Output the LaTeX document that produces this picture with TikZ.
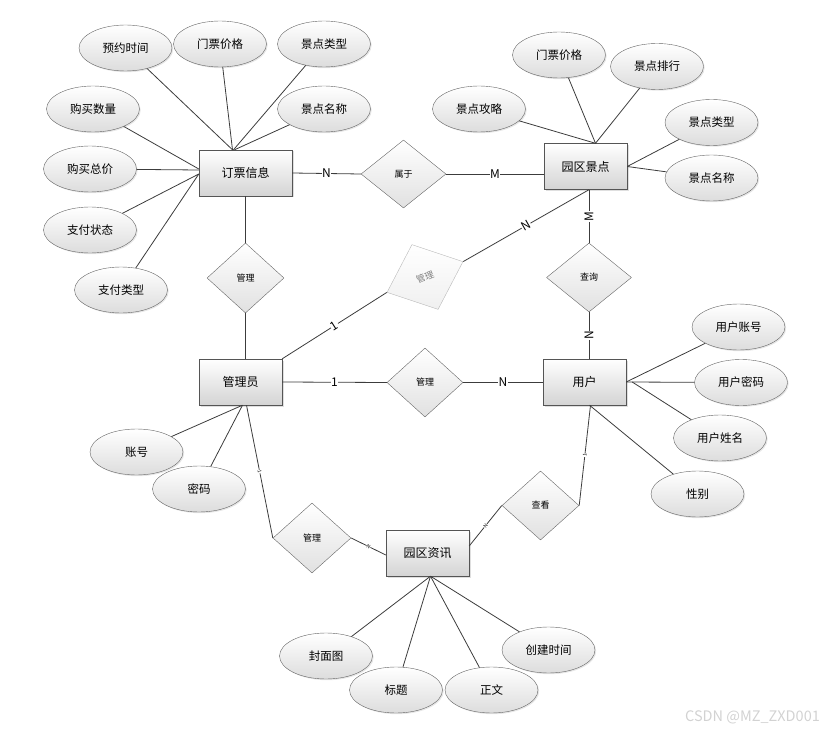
\documentclass[tikz,border=0pt]{standalone}
\usepackage{fontspec}
\setmainfont{Noto Sans CJK SC}
\usetikzlibrary{shapes.geometric,shadows}
\definecolor{EdgeGray}{RGB}{85,85,85}
\definecolor{ShadeGray}{RGB}{212,212,212}
\definecolor{LineGray}{RGB}{60,60,60}

\begin{document}
\begin{tikzpicture}[x=1pt, y=-1pt,
            entity/.style={draw=EdgeGray, top color=white, bottom color=ShadeGray, minimum width=83pt, minimum height=46pt, inner sep=0pt, font=\fontsize{12}{12}\selectfont, drop shadow={shadow xshift=1.5pt, shadow yshift=-1.5pt, opacity=0.25}},
            attr/.style={draw=EdgeGray!90, ellipse, top color=white, bottom color=ShadeGray!80, minimum width=93pt, minimum height=46pt, inner sep=0pt, font=\fontsize{11.5}{12}\selectfont, drop shadow={shadow xshift=1.2pt, shadow yshift=-1.2pt, opacity=0.2}},
            rel/.style={draw=EdgeGray!90, diamond, top color=white, bottom color=ShadeGray!70, minimum width=78pt, minimum height=70pt, inner sep=0pt, font=\fontsize{9}{10}\selectfont},
            link/.style={draw=LineGray, line width=0.8pt},
            card/.style={fill=white, inner sep=0.6pt, font=\fontsize{12}{12}\selectfont},
            tick/.style={fill=white, inner sep=0.3pt, sloped, font=\fontsize{5}{5}\selectfont}
        ]
            \useasboundingbox (0,0) rectangle (836,733);

            \node[entity, minimum width=93pt] (ticket) at (245.5,173) {订票信息};
            \node[entity] (spot)  at (585.5,166.5) {园区景点};
            \node[entity] (admin) at (240.5,382)   {管理员};
            \node[entity] (user)  at (584.5,382)   {用户};
            \node[entity] (news)  at (427.5,553)   {园区资讯};

            \node[rel, minimum width=85pt, minimum height=68pt] (belong) at (403.5,174) {属于};
            \node[rel, minimum width=77pt] (mgrorder) at (245.5,278) {管理};
            \node[rel, minimum width=82pt, rotate=22, draw=gray!55, top color=white, bottom color=gray!12, text=gray] (mgrspot) at (425,277) {管理};
            \node[rel, minimum width=85pt, minimum height=69pt] (query) at (589,277.5) {查询};
            \node[rel, minimum width=76pt, minimum height=69pt] (mgruser) at (425,382.5) {管理};
            \node[rel] (mgrnews) at (312,538) {管理};
            \node[rel, minimum width=77pt, minimum height=69pt] (view) at (540.5,505.5) {查看};

            \node[attr] (tbook)  at (125.5,48) {预约时间};
            \node[attr] (tprice) at (220,44)   {门票价格};
            \node[attr] (ttype)  at (324,44)   {景点类型};
            \node[attr] (tname)  at (324,109)  {景点名称};
            \node[attr] (tcount) at (93,109)   {购买数量};
            \node[attr] (ttotal) at (90,169)   {购买总价};
            \node[attr] (tstate) at (90,230)   {支付状态};
            \node[attr] (tpay)   at (121,290)  {支付类型};

            \node[attr] (sprice) at (559,55)      {门票价格};
            \node[attr] (srank)  at (657,66.5)    {景点排行};
            \node[attr] (sguide) at (479,109)     {景点攻略};
            \node[attr] (stype)  at (711.5,122.5) {景点类型};
            \node[attr] (sname)  at (711.5,178)   {景点名称};

            \node[attr] (uacct) at (738.5,327) {用户账号};
            \node[attr] (upass) at (741,382.5) {用户密码};
            \node[attr] (uname) at (720,438)   {用户姓名};
            \node[attr] (usex)  at (697.5,494) {性别};

            \node[attr] (aacct) at (136.5,452) {账号};
            \node[attr] (apass) at (199,489)   {密码};

            \node[attr] (ncover) at (326,656)   {封面图};
            \node[attr] (ntitle) at (396,690)   {标题};
            \node[attr] (nbody)  at (491.5,690) {正文};
            \node[attr] (ntime)  at (548.5,650) {创建时间};

            \node[text=gray!35, font=\fontsize{14.5}{15}\selectfont] (mark) at (752.5,717) {CSDN @MZ\_ZXD001};

            \draw[link] (tbook)  -- ([xshift=-13pt]ticket.north);
            \draw[link] (tprice) -- ([xshift=-13pt]ticket.north);
            \draw[link] (ttype)  -- ([xshift=-12pt]ticket.north);
            \draw[link] (tname)  -- ([xshift=-11pt]ticket.north);
            \draw[link] (tcount) -- ([yshift=4pt]ticket.west);
            \draw[link] (ttotal) -- ([yshift=3pt]ticket.west);
            \draw[link] (tstate) -- ([yshift=-1pt]ticket.west);
            \draw[link] (tpay)   -- ([yshift=-1pt]ticket.west);

            \draw[link] (sguide) -- ([xshift=10pt]spot.north);
            \draw[link] (sprice) -- ([xshift=10pt]spot.north);
            \draw[link] (srank)  -- ([xshift=10pt]spot.north);
            \draw[link] (stype)  -- (spot.east);
            \draw[link] (sname)  -- (spot.east);

            \draw[link] (uacct) -- (user.east);
            \draw[link] (upass) -- (user.east);
            \draw[link] (uname) -- ([xshift=6pt]user.east);
            \draw[link] (usex)  -- ([xshift=5pt]user.south);

            \draw[link] (aacct) -- ([xshift=2pt]admin.south);
            \draw[link] (apass) -- ([xshift=2pt]admin.south);

            \draw[link] (ncover) -- ([xshift=3pt]news.south);
            \draw[link] (ntitle) -- ([xshift=3pt]news.south);
            \draw[link] (nbody)  -- ([xshift=3pt]news.south);
            \draw[link] (ntime)  -- ([xshift=3pt]news.south);

            \draw[link] (ticket.east) -- node[card] {N} (belong.west);
            \draw[link] (belong.east) -- node[card] {M} (belong.east -| spot.west);
            \draw[link] (query.north) -- node[card, rotate=90] {M} (query.north |- spot.south);
            \draw[link] (query.south) -- node[card, rotate=90] {N} (query.south |- user.north);
            \draw[link] (admin.east) -- node[card] {1} (mgruser.west);
            \draw[link] (mgruser.east) -- node[card] {N} (mgruser.east -| user.west);
            \draw[link] (ticket.south) -- (mgrorder.north);
            \draw[link] (mgrorder.south) -- (mgrorder.south |- admin.north);
            \draw[link] (admin.north east) -- node[card, sloped] {1} (mgrspot.west);
            \draw[link] (mgrspot.east) -- node[card, sloped] {N} ([xshift=3.5pt]spot.south);
            \draw[link] ([xshift=6pt]admin.south) -- node[tick] {1} (mgrnews.west);
            \draw[link] (mgrnews.east) -- node[tick] {N} ([yshift=-2pt]news.west);
            \draw[link] ([yshift=7pt]news.east) -- node[tick] {N} (view.west);
            \draw[link] (view.east) -- node[tick] {1} ([xshift=6pt]user.south);
        \end{tikzpicture}
\end{document}
